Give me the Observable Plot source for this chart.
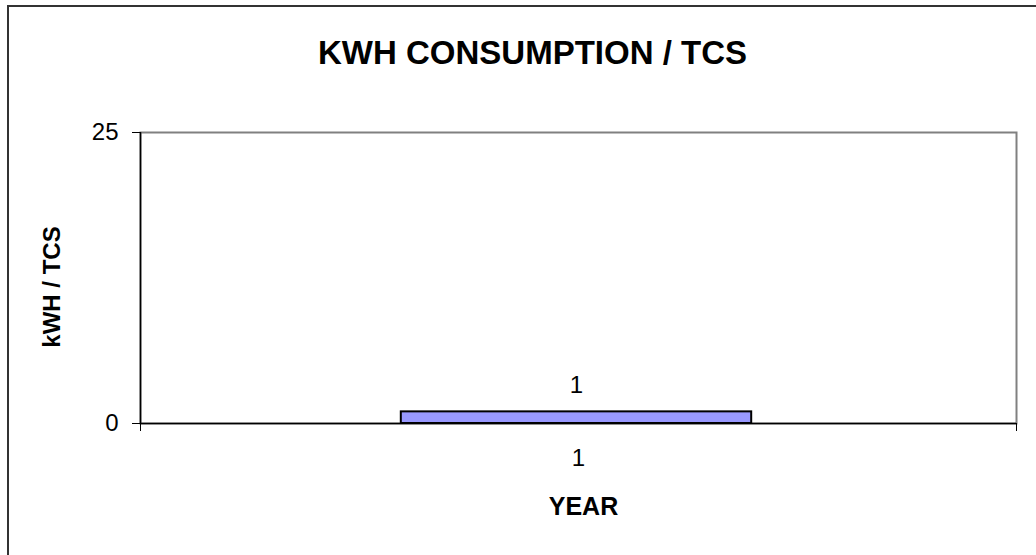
<!DOCTYPE html>
<html>
<head>
<meta charset="utf-8">
<script src="https://cdn.jsdelivr.net/npm/d3@7"></script>
<script src="https://cdn.jsdelivr.net/npm/@observablehq/plot@0.6"></script>
<style>
  html, body { margin: 0; padding: 0; background: #fff; overflow: hidden; }
  #wrap { position: relative; width: 1036px; height: 555px; overflow: hidden; font-family: "Liberation Sans", Arial, sans-serif; }
  #border { position: absolute; left: 7px; top: 5px; width: 1100px; height: 700px; border: 2px solid #333; box-sizing: border-box; }
  #chart { position: absolute; left: 0; top: 0; }
</style>
</head>
<body>
<div id="wrap"><div id="border"></div><div id="chart"></div></div>
<script>
const title = "KWH CONSUMPTION / TCS";
const yLabel = "kWH / TCS";
const xLabel = "YEAR";
const years = [1];
const values = [1];
const yTicks = [0, 25];
const yDomain = [0, 25];

const data = years.map((y, i) => ({year: y, value: values[i]}));
const xDomain = [d3.min(years) - 0.5, d3.max(years) + 0.5];
const xBounds = d3.range(xDomain[0], xDomain[1] + 0.01, 1);

const chart = Plot.plot({
  width: 1036,
  height: 555,
  marginLeft: 140,
  marginRight: 20,
  marginTop: 132,
  marginBottom: 132,
  style: {fontFamily: "'Liberation Sans', Arial, sans-serif", background: "transparent", color: "black"},
  x: {type: "linear", domain: xDomain},
  y: {domain: yDomain},
  marks: [
    Plot.frame({stroke: "#808080", strokeWidth: 2}),
    Plot.rectY(data, {x1: d => d.year - 0.2, x2: d => d.year + 0.2, y: "value", fill: "#9999FF", stroke: "black", strokeWidth: 2, dx: -2}),
    Plot.ruleY([yDomain[0]], {stroke: "black", strokeWidth: 1.5}),
    Plot.ruleX([xDomain[0]], {stroke: "black", strokeWidth: 1.5}),
    Plot.text(data, {x: "year", y: "value", text: d => String(d.value), dx: -2, dy: -19, lineAnchor: "bottom", fontSize: 24}),
    Plot.axisY(yTicks, {tickSize: 8, tickPadding: 14, fontSize: 24, label: null}),
    Plot.axisX(xBounds, {tickSize: 8, tickFormat: () => "", label: null}),
    Plot.axisX(years, {tickSize: 0, tickPadding: 25, fontSize: 24, tickFormat: d => String(d), label: null}),
    Plot.text([title], {frameAnchor: "top", text: d => d, dx: -46, dy: -69, lineAnchor: "bottom", fontSize: 33, fontWeight: "bold"}),
    Plot.text([xLabel], {frameAnchor: "bottom", text: d => d, dx: 5, dy: 91, lineAnchor: "bottom", fontSize: 25, fontWeight: "bold"}),
    Plot.text([yLabel], {frameAnchor: "left", textAnchor: "middle", text: d => d, dx: -88, dy: 9, rotate: -90, fontSize: 24, fontWeight: "bold"})
  ]
});
document.getElementById("chart").appendChild(chart);
</script>
</body>
</html>
